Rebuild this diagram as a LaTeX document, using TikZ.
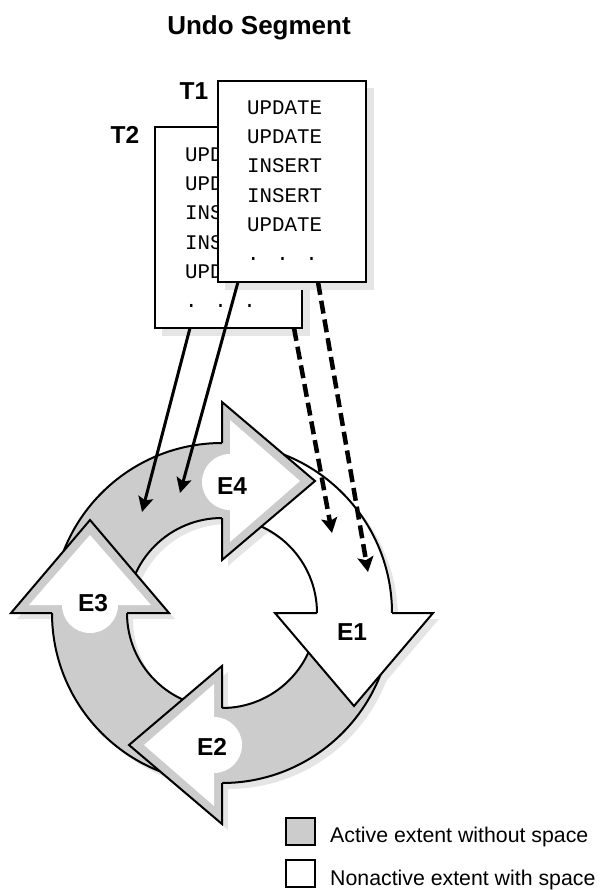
\documentclass[tikz,border=0pt]{standalone}
\usepackage{fontspec}
\setmainfont{Liberation Sans}
\newfontfamily\cdfam{Liberation Mono}
\usetikzlibrary{arrows.meta,calc}
\definecolor{ringgray}{gray}{0.8}
\definecolor{shadowgray}{gray}{0.9}
\newcommand\ttlfnt{\fontsize{26}{30}\selectfont\bfseries}
\newcommand\lblfnt{\fontsize{24.5}{28}\selectfont\bfseries}
\newcommand\cdfnt{\cdfam\fontsize{20.8}{24}\selectfont}
\newcommand\lgdfnt{\fontsize{21.3}{25}\selectfont}
\begin{document}
\begin{tikzpicture}[x=1pt,y=-1pt,
  ringline/.style={line width=2pt, line join=miter},
  boxst/.style={draw, line width=2.7pt, fill=white, inner sep=0pt, outer sep=0pt, anchor=north west},
  code/.style={font=\cdfnt, anchor=base west, inner sep=0pt},
  lab/.style={font=\lblfnt, inner sep=0pt},
  lgd/.style={font=\lgdfnt, anchor=base west, inner sep=0pt},
  lgdbox/.style={draw, line width=2.5pt, inner sep=0pt, outer sep=0pt, minimum width=29, minimum height=27, anchor=north west},
  solidarr/.style={line width=3pt, -{Stealth[length=15pt,width=15pt,inset=3pt]}},
  dasharr/.style={line width=4.5pt, dash pattern=on 13pt off 6pt, -{Stealth[length=15pt,width=16pt,inset=3pt]}},
  labcirc/.style={fill=white, draw=none},
  shadowfill/.style={fill=shadowgray, draw=none}
]
\useasboundingbox (0,0) rectangle (599,890);

% title
\node[font=\ttlfnt, anchor=base, inner sep=0pt] (title) at (259,35) {Undo Segment};

% ---------- ring shadow ----------
\begin{scope}[shift={(6,6)}]
  \fill[shadowfill, even odd rule] (222,613) circle[radius=170] (222,613) circle[radius=95];
  \fill[shadowfill] (222,402) -- (315,481) -- (222,560) -- cycle;
  \fill[shadowfill] (275,613) -- (354,706) -- (433,613) -- cycle;
  \fill[shadowfill] (222,824) -- (129,745) -- (222,666) -- cycle;
  \fill[shadowfill] (11,613) -- (90,520) -- (169,613) -- cycle;
\end{scope}

% ---------- bodies ----------
% E4 body (top-left, gray)
\fill[ringgray] (52,613) arc[start angle=180,end angle=270,radius=170] -- (222,518) arc[start angle=270,end angle=180,radius=95] -- cycle;
\draw[ringline] (52,613) arc[start angle=180,end angle=270,radius=170];
\draw[ringline] (222,518) arc[start angle=270,end angle=180,radius=95];
% E1 body (top-right, white)
\fill[white] (222,443) arc[start angle=270,end angle=360,radius=170] -- (317,613) arc[start angle=0,end angle=-90,radius=95] -- cycle;
\draw[ringline] (222,443) arc[start angle=270,end angle=360,radius=170];
\draw[ringline] (317,613) arc[start angle=0,end angle=-90,radius=95];
% E2 body (bottom-right, gray)
\fill[ringgray] (392,613) arc[start angle=0,end angle=90,radius=170] -- (222,708) arc[start angle=90,end angle=0,radius=95] -- cycle;
\draw[ringline] (392,613) arc[start angle=0,end angle=90,radius=170];
\draw[ringline] (222,708) arc[start angle=90,end angle=0,radius=95];
% E3 body (bottom-left, gray)
\fill[ringgray] (222,783) arc[start angle=90,end angle=180,radius=170] -- (127,613) arc[start angle=180,end angle=90,radius=95] -- cycle;
\draw[ringline] (222,783) arc[start angle=90,end angle=180,radius=170];
\draw[ringline] (127,613) arc[start angle=180,end angle=90,radius=95];

% ---------- heads ----------
% E4 head (top, pointing right)
\fill[ringgray] (222,402) -- (315,481) -- (222,560) -- cycle;
\fill[white] (230,420) -- (300,481) -- (230,542) -- cycle;
\draw[ringline] (222,443) -- (222,402) -- (315,481) -- (222,560) -- (222,518);
\fill[labcirc] (230,482) circle[radius=28];
\node[lab] (E4) at (232,486) {E4};
% E1 head (right, pointing down)
\fill[white] (275,613) -- (354,706) -- (433,613) -- cycle;
\draw[ringline] (317,613) -- (275,613) -- (354,706) -- (433,613) -- (392,613);
\node[lab] (E1) at (352,632) {E1};
% E2 head (bottom, pointing left)
\fill[ringgray] (222,824) -- (129,745) -- (222,666) -- cycle;
\fill[white] (214,806) -- (144,745) -- (214,684) -- cycle;
\draw[ringline] (222,783) -- (222,824) -- (129,745) -- (222,666) -- (222,708);
\fill[labcirc] (214,745) circle[radius=28];
\node[lab] (E2) at (212,747) {E2};
% E3 head (left, pointing up)
\fill[ringgray] (11,613) -- (90,520) -- (169,613) -- cycle;
\fill[white] (29,605) -- (90,535) -- (151,605) -- cycle;
\draw[ringline] (52,613) -- (11,613) -- (90,520) -- (169,613) -- (127,613);
\fill[labcirc] (90,605) circle[radius=28];
\node[lab] (E3) at (93,603) {E3};

% ---------- transaction boxes ----------
\fill[shadowfill] (162,134) rectangle (310,336);
\node[boxst, minimum width=147, minimum height=201] (t2box) at (155,127) {};
\node[code] (t2l1) at (185,161.3) {UPD};
\node[code] (t2l2) at (185,190.6) {UPD};
\node[code] (t2l3) at (185,219.9) {INS};
\node[code] (t2l4) at (185,249.2) {INS};
\node[code] (t2l5) at (185,278.5) {UPD};
\node[code] (t2l6) at (185,307.8) {. . .};
\node[lab] (T2) at (125,135) {T2};

\fill[shadowfill] (225,88) rectangle (374,290);
\node[boxst, minimum width=148, minimum height=201] (t1box) at (218,81) {};
\node[code] (t1l1) at (247,114.3) {UPDATE};
\node[code] (t1l2) at (247,143.6) {UPDATE};
\node[code] (t1l3) at (247,172.9) {INSERT};
\node[code] (t1l4) at (247,202.2) {INSERT};
\node[code] (t1l5) at (247,231.5) {UPDATE};
\node[code] (t1l6) at (247,260.8) {. . .};
\node[lab] (T1) at (194,91) {T1};

% ---------- connectors ----------
\coordinate (tipa) at (142,512);
\coordinate (tipb) at (180,493);
\coordinate (tipc) at (332,533);
\coordinate (tipd) at (368,572);
\draw[solidarr] ($(t2box.south west)+(35,0)$) -- (tipa);
\draw[solidarr] ($(t1box.south west)+(20,0)$) -- (tipb);
\draw[dasharr] ($(t2box.south west)+(139,0)$) -- (tipc);
\draw[dasharr] ($(t1box.south west)+(100,0)$) -- (tipd);

% ---------- legend ----------
\node[lgdbox, fill=ringgray] (lgact) at (286,818) {};
\node[lgdbox, fill=white] (lgnon) at (286,860) {};
\node[lgd] (lgacttxt) at (330,842) {Active extent without space};
\node[lgd] (lgnontxt) at (330,885) {Nonactive extent with space};
\end{tikzpicture}
\end{document}
